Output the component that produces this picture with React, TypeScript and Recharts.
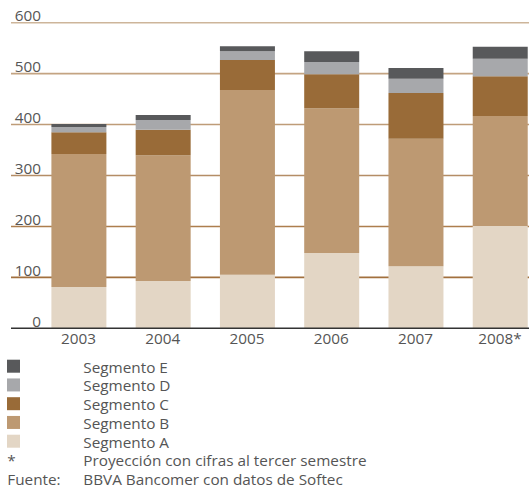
import React from "react";
import { BarChart, Bar, XAxis, YAxis, CartesianGrid } from "recharts";

const years = ["2003", "2004", "2005", "2006", "2007", "2008*"];
const segA = [81, 93, 105, 148, 122, 201];
const segB = [261, 247, 363, 284, 250, 216];
const segC = [43, 50, 59, 67, 90, 78];
const segD = [10, 19, 17, 24, 28, 34];
const segE = [6, 10, 10, 21, 21, 24];
const yTicks = [0, 100, 200, 300, 400, 500, 600];

const series = [
  { key: "A", name: "Segmento A", color: "#E3D6C5", values: segA },
  { key: "B", name: "Segmento B", color: "#BD9972", values: segB },
  { key: "C", name: "Segmento C", color: "#996B38", values: segC },
  { key: "D", name: "Segmento D", color: "#A7A8AB", values: segD },
  { key: "E", name: "Segmento E", color: "#58595B", values: segE },
];

const notes = [
  { mark: "*", text: "Proyección con cifras al tercer semestre" },
  { mark: "Fuente:", text: "BBVA Bancomer con datos de Softec" },
];

// from top line (600) down to 100
const gridColors = ["#CDB59A", "#C4A482", "#BE9C78", "#B48D66", "#AD7E4E", "#A2703E"];

const data = years.map((y, i) => {
  const row: any = { year: y };
  series.forEach((s) => (row[s.key] = s.values[i]));
  return row;
});

const FONT = "'Open Sans', 'DejaVu Sans', sans-serif";
const TEXT = "#555555";
const FS = 15.3;

const YTick = (props: any) => {
  const { x, y, payload } = props;
  return (
    <text x={x + 30} y={y - 7} dy="0.355em" textAnchor="end" fill={TEXT} fontSize={FS} fontFamily={FONT}>
      {payload.value}
    </text>
  );
};

export default function App() {
  const legendItems = [...series].reverse();
  const GridLine = (props: any) => {
    const { x1, x2, y1, y2 } = props;
    if (y1 > 320) return <line key={props.key} />;
    const idx = Math.round((y1 - 22.7) / 50.93);
    return (
      <line
        key={props.key}
        x1={x1}
        x2={x2}
        y1={y1}
        y2={y2}
        stroke={gridColors[Math.max(0, Math.min(gridColors.length - 1, idx))]}
        strokeWidth={1.6}
      />
    );
  };
  return (
    <div style={{ position: "absolute", left: 0, top: 0, width: 529, height: 489, overflow: "hidden", background: "#fff" }}>
      <BarChart
        width={542}
        height={351}
        data={data}
        margin={{ top: 22.7, right: 0, left: 0, bottom: 0 }}
        barCategoryGap={0}
      >
        <CartesianGrid vertical={false} horizontal={GridLine as any} />
        <YAxis
          width={11}
          domain={[0, 600]}
          ticks={yTicks}
          axisLine={false}
          tickLine={false}
          tickSize={0}
          tickMargin={0}
          tick={<YTick />}
          interval={0}
        />
        <XAxis
          dataKey="year"
          height={22.7}
          padding={{ left: 25.4, right: 0 }}
          axisLine={{ stroke: "#333333", strokeWidth: 1.6 }}
          tickLine={false}
          tickSize={0}
          tickMargin={5}
          tick={{ fill: TEXT, fontSize: FS, fontFamily: FONT }}
          interval={0}
        />
        {series.map((s) => (
          <Bar key={s.key} dataKey={s.key} name={s.name} stackId="a" fill={s.color} barSize={55} isAnimationActive={false} />
        ))}
      </BarChart>
      <svg width={529} height={138} style={{ position: "absolute", left: 0, top: 351 }}>
        {legendItems.map((s, i) => (
          <g key={s.key}>
            <rect x={7} y={8.7 + 18.75 * i} width={13} height={13} fill={s.color} />
            <text x={83.3} y={21.7 + 18.75 * i} fill={TEXT} fontSize={FS} fontFamily={FONT}>
              {s.name}
            </text>
          </g>
        ))}
        {notes.map((n, j) => (
          <g key={n.mark}>
            <text x={7.3} y={21.7 + 18.75 * (legendItems.length + j)} fill={TEXT} fontSize={FS} fontFamily={FONT}>
              {n.mark}
            </text>
            <text x={83.3} y={21.7 + 18.75 * (legendItems.length + j)} fill={TEXT} fontSize={FS} fontFamily={FONT}>
              {n.text}
            </text>
          </g>
        ))}
      </svg>
    </div>
  );
}
